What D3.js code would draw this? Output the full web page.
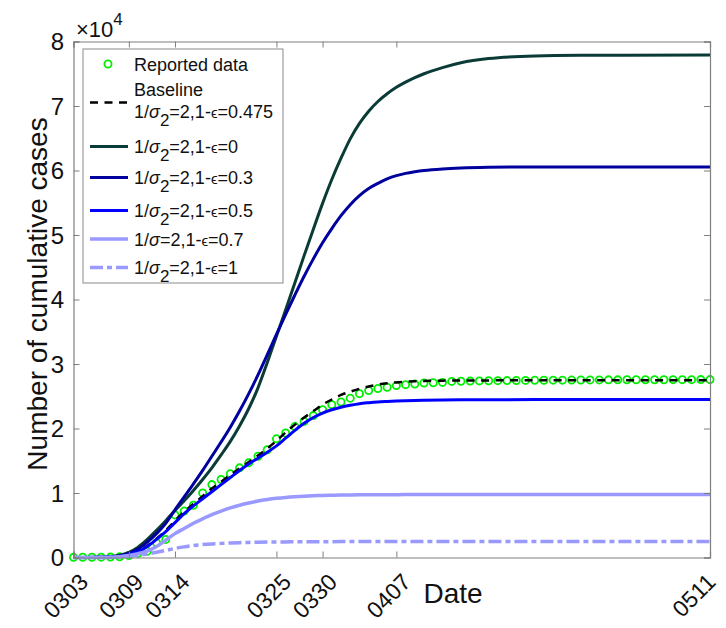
<!DOCTYPE html>
<html>
<head>
<meta charset="utf-8">
<script src="https://cdn.jsdelivr.net/npm/d3@7/dist/d3.min.js"></script>
<style>
  body { margin: 0; background: #fff; }
  svg { display: block; font-family: "Liberation Sans", Arial, Helvetica, sans-serif; }
</style>
</head>
<body>
<svg id="chart" width="726" height="628"></svg>
<script>
// Dates are counted in days from 03-03
const dateTickDays = [0, 6, 11, 22, 27, 35, 69];
const dateTickLabels = ["0303", "0309", "0314", "0325", "0330", "0407", "0511"];
const caseTicks = [0, 10000, 20000, 30000, 40000, 50000, 60000, 70000, 80000];
const caseTickLabels = ["0", "1", "2", "3", "4", "5", "6", "7", "8"];

// Reported cumulative cases, one value per day (0303 ... 0511)
const reportedCases = [
  20, 30, 40, 50, 60, 100, 300, 650, 980, 2300,
  2800, 6600, 7200, 8100, 10000, 11300, 12100, 13000, 13900, 14700,
  15700, 16700, 18400, 19300, 20300, 21100, 22000, 22900, 23700, 24100,
  24700, 25400, 25900, 26200, 26400, 26650, 26800, 26900, 27050, 27100,
  27150, 27300, 27330, 27350, 27380, 27400, 27420, 27430, 27450, 27460,
  27470, 27480, 27500, 27500, 27510, 27520, 27530, 27530, 27540, 27540,
  27550, 27550, 27560, 27560, 27560, 27570, 27570, 27570, 27580, 27580
];

// Model output sampled on these days
const modelDays = [0, 3, 5, 6, 7, 8, 9, 10, 11, 12, 13, 14, 15, 16, 17, 18, 19, 20, 21, 22,
  23, 24, 25, 26, 27, 28, 29, 30, 31, 32, 33, 34, 35, 36, 37, 38, 40, 42, 45, 50, 55, 69];

// Baseline: 1/sigma2 = 2, 1-eps = 0.475
const baselineCases = [0, 40, 200, 500, 1000, 1800, 2900, 4200, 5700, 7100, 8300, 9500, 10700, 11750, 12800, 13800, 14800, 15800, 16900, 18100,
  19400, 20600, 21700, 22700, 23700, 24500, 25200, 25700, 26150, 26500, 26800, 27000, 27150, 27250, 27320, 27370, 27420, 27450, 27460, 27470, 27470, 27470];
// 1-eps = 0
const eps0Cases = [0, 30, 350, 800, 1600, 2800, 4200, 5700, 7300, 8800, 10400, 12100, 13900, 15900, 18000, 20400, 23100, 26300, 30200, 34300,
  38400, 42600, 46800, 50900, 54900, 58600, 61900, 64900, 67300, 69200, 70700, 71900, 72900, 73700, 74400, 75000, 75950, 76700, 77350, 77750, 77850, 77900];
// 1-eps = 0.3
const eps03Cases = [0, 25, 250, 650, 1300, 2400, 3700, 5300, 7400, 9400, 11400, 13500, 15700, 17900, 20200, 22700, 25400, 28300, 31400, 34600,
  37700, 40700, 43600, 46300, 48800, 51000, 53000, 54700, 56100, 57200, 58000, 58700, 59200, 59550, 59800, 60000, 60250, 60400, 60500, 60550, 60550, 60550];
// 1-eps = 0.5
const eps05Cases = [0, 20, 180, 450, 900, 1700, 2800, 4000, 5400, 6800, 8000, 9100, 10200, 11300, 12400, 13500, 14500, 15400, 16300, 17300,
  18500, 19700, 20800, 21700, 22400, 22900, 23300, 23600, 23850, 24000, 24120, 24200, 24270, 24320, 24360, 24390, 24430, 24450, 24470, 24480, 24480, 24480];
// 1-eps = 0.7
const eps07Cases = [0, 15, 130, 300, 600, 1000, 1700, 2700, 3700, 4500, 5300, 6000, 6650, 7200, 7700, 8100, 8450, 8750, 8980, 9170,
  9320, 9430, 9510, 9570, 9620, 9650, 9680, 9700, 9715, 9725, 9735, 9740, 9745, 9750, 9750, 9755, 9760, 9760, 9760, 9760, 9760, 9760];
// 1-eps = 1
const eps1Cases = [0, 10, 100, 200, 350, 550, 800, 1100, 1400, 1650, 1850, 2000, 2110, 2190, 2250, 2300, 2340, 2370, 2390, 2410,
  2420, 2430, 2440, 2450, 2455, 2460, 2465, 2470, 2472, 2474, 2476, 2477, 2478, 2479, 2480, 2480, 2480, 2480, 2480, 2480, 2480, 2480];

const svg = d3.select("#chart");
const W = 726;
const plot = { left: 73.5, right: 710, top: 41.5, bottom: 557.5 };

const x = d3.scaleLinear().domain([0, 69]).range([plot.left, plot.right]);
const y = d3.scaleLinear().domain([0, 80000]).range([plot.bottom, plot.top]);

const axisColor = "#7f7f7f";

// model curves
const line = d3.line()
  .x(d => x(d[0]))
  .y(d => y(d[1]))
  .curve(d3.curveMonotoneX);

const series = [
  { name: "baseline", vals: baselineCases, color: "#000000", width: 2.5, dash: "8,6.5" },
  { name: "eps0", vals: eps0Cases, color: "#0b3b37", width: 3, dash: null },
  { name: "eps03", vals: eps03Cases, color: "#00009e", width: 3, dash: null },
  { name: "eps05", vals: eps05Cases, color: "#0000ff", width: 3, dash: null },
  { name: "eps07", vals: eps07Cases, color: "#9999ff", width: 3.5, dash: null },
  { name: "eps1", vals: eps1Cases, color: "#9999ff", width: 3.5, dash: "13,4,5,4" }
];

// reported data (drawn first, lines go on top)
svg.append("g").selectAll("circle")
  .data(reportedCases)
  .join("circle")
  .attr("cx", (d, i) => x(i))
  .attr("cy", d => y(d))
  .attr("r", 3.6)
  .attr("fill", "none")
  .attr("stroke", "#00ee00")
  .attr("stroke-width", 1.8);

const gLines = svg.append("g");
series.forEach(s => {
  gLines.append("path")
    .datum(modelDays.map((d, i) => [d, s.vals[i]]))
    .attr("d", line)
    .attr("fill", "none")
    .attr("stroke", s.color)
    .attr("stroke-width", s.width)
    .attr("stroke-dasharray", s.dash)
    .attr("stroke-linejoin", "round");
});

// axes box with inward ticks on all four sides
const bottomAxis = d3.axisBottom(x).tickValues(dateTickDays).tickSize(-6).tickFormat("");
const topAxis = d3.axisTop(x).tickValues(dateTickDays).tickSize(-6).tickFormat("");
const leftAxis = d3.axisLeft(y).tickValues(caseTicks).tickSize(-6).tickFormat("");
const rightAxis = d3.axisRight(y).tickValues(caseTicks).tickSize(-6).tickFormat("");

function styleAxis(g) {
  g.select(".domain").attr("stroke", axisColor).attr("stroke-width", 1.2);
  g.selectAll(".tick line").attr("stroke", axisColor).attr("stroke-width", 1);
}
svg.append("g").attr("transform", `translate(0,${plot.bottom})`).call(bottomAxis).call(styleAxis);
svg.append("g").attr("transform", `translate(0,${plot.top})`).call(topAxis).call(styleAxis);
svg.append("g").attr("transform", `translate(${plot.left},0)`).call(leftAxis).call(styleAxis);
svg.append("g").attr("transform", `translate(${plot.right},0)`).call(rightAxis).call(styleAxis);

// y tick labels
svg.append("g").selectAll("text")
  .data(caseTicks)
  .join("text")
  .attr("x", 64)
  .attr("y", d => y(d))
  .attr("dy", "0.36em")
  .attr("text-anchor", "end")
  .attr("font-size", 24)
  .attr("fill", "#111")
  .text((d, i) => caseTickLabels[i]);

// exponent marker
const expo = svg.append("text")
  .attr("x", 76).attr("y", 37)
  .attr("font-size", 22).attr("fill", "#111");
expo.append("tspan").text("\u00d710");
expo.append("tspan").attr("dy", -12).attr("font-size", 17).text("4");

// rotated date labels (the last one is kept inside the page edge)
svg.append("g").selectAll("text")
  .data(dateTickDays)
  .join("text")
  .attr("transform", d => `translate(${Math.min(x(d) + 16, W - 9)},${plot.bottom + 26}) rotate(-45)`)
  .attr("text-anchor", "end")
  .attr("font-size", 23)
  .attr("fill", "#111")
  .text((d, i) => dateTickLabels[i]);

// axis titles
svg.append("text")
  .attr("transform", "translate(47,294) rotate(-90)")
  .attr("text-anchor", "middle")
  .attr("font-size", 28)
  .attr("fill", "#111")
  .text("Number of cumulative cases");

svg.append("text")
  .attr("x", 453).attr("y", 603)
  .attr("text-anchor", "middle")
  .attr("font-size", 28)
  .attr("fill", "#111")
  .text("Date");

// legend
const legend = svg.append("g");
legend.append("rect")
  .attr("x", 83).attr("y", 49).attr("width", 200).attr("height", 234)
  .attr("fill", "#fff").attr("stroke", "#8a8a8a").attr("stroke-width", 1);

legend.append("circle")
  .attr("cx", 108).attr("cy", 64).attr("r", 3.6)
  .attr("fill", "none").attr("stroke", "#00ee00").attr("stroke-width", 1.8);

const legendFont = 18;
function addText(yc, parts) {
  const t = legend.append("text")
    .attr("x", 134).attr("y", yc + 6.5)
    .attr("font-size", legendFont).attr("fill", "#111");
  parts.forEach(p => {
    const ts = t.append("tspan").text(p.t);
    if (p.sub) ts.attr("dy", 8).attr("font-size", 17);
    if (p.back) ts.attr("dy", -8);
    if (p.it) ts.attr("font-style", "italic");
    if (p.small) ts.attr("font-size", 15);
  });
}
addText(64, [{ t: "Reported data" }]);
addText(89, [{ t: "Baseline" }]);

const legendItems = [
  { yc: 111.5, s: series[0], sub: true, val: "0.475", lineY: 102.5 },
  { yc: 146.5, s: series[1], sub: true, val: "0", lineY: 146.5 },
  { yc: 177.5, s: series[2], sub: true, val: "0.3", lineY: 177.5 },
  { yc: 210.5, s: series[3], sub: true, val: "0.5", lineY: 210.5 },
  { yc: 239, s: series[4], sub: false, val: "0.7", lineY: 239 },
  { yc: 267.5, s: series[5], sub: true, val: "1", lineY: 267.5 }
];
legendItems.forEach(it => {
  legend.append("line")
    .attr("x1", 90).attr("x2", 128)
    .attr("y1", it.lineY).attr("y2", it.lineY)
    .attr("stroke", it.s.color)
    .attr("stroke-width", it.s.width)
    .attr("stroke-dasharray", it.s.dash);
  const parts = [{ t: "1/" }, { t: "\u03c3", it: true }];
  if (it.sub) {
    parts.push({ t: "2", sub: true });
    parts.push({ t: "=2,1-", back: true });
  } else {
    parts.push({ t: "=2,1-" });
  }
  parts.push({ t: "\u03f5", small: true });
  parts.push({ t: "=" + it.val });
  addText(it.yc, parts);
});
</script>
</body>
</html>
